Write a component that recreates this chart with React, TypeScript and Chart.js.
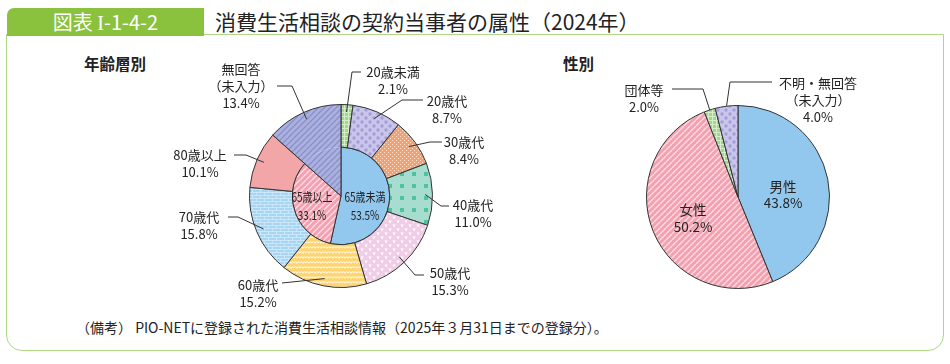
import React, { useEffect, useRef } from 'react';
import { Chart, registerables } from 'chart.js';
Chart.register(...registerables);

// ---------------- data ----------------
const ageLabels = ['20歳未満', '20歳代', '30歳代', '40歳代', '50歳代', '60歳代', '70歳代', '80歳以上', '無回答（未入力）'];
const ageValues = [2.1, 8.7, 8.4, 11.0, 15.3, 15.2, 15.8, 10.1, 13.4];
const groupLabels = ['65歳未満', '65歳以上', '無回答（未入力）'];
const groupValues = [53.5, 33.1, 13.4];
const sexLabels = ['男性', '女性', '団体等', '不明・無回答（未入力）'];
const sexValues = [43.8, 50.2, 2.0, 4.0];

const FONT = '"Noto Sans CJK JP", "Noto Sans", sans-serif';
const pct = (v: number) => `${v.toFixed(1)}%`;

type Item = {
  ds: number;
  index: number;
  lines: string[];
  x: number;
  y: number;
  step?: number;
  size?: number;
  sx?: number;
  leader?: number[][];
  reach?: number;
};

function makePattern(w: number, h: number, bg: string, draw?: (c: CanvasRenderingContext2D) => void) {
  const cv = document.createElement('canvas');
  cv.width = w;
  cv.height = h;
  const c = cv.getContext('2d')!;
  c.fillStyle = bg;
  c.fillRect(0, 0, w, h);
  if (draw) draw(c);
  return c.createPattern(cv, 'repeat')!;
}

function stripes(c: CanvasRenderingContext2D, s: number, color: string, lw: number) {
  c.strokeStyle = color;
  c.lineWidth = lw;
  c.beginPath();
  for (const k of [-s, 0, s]) {
    c.moveTo(k, s);
    c.lineTo(k + s, 0);
  }
  c.stroke();
}

function buildPatterns() {
  const greenCheck = makePattern(4, 4, '#a3d88a', (c) => {
    c.fillStyle = 'rgba(255,255,255,0.55)';
    c.fillRect(0, 0, 4, 1);
    c.fillRect(0, 1, 1, 3);
  });
  const lavDots = makePattern(8, 8, '#cac6ea', (c) => {
    c.fillStyle = '#a39edc';
    for (const [x, y] of [[2, 2], [6, 6]]) {
      c.beginPath();
      c.arc(x, y, 1.7, 0, Math.PI * 2);
      c.fill();
    }
  });
  const orange = makePattern(4, 4, '#f7a06d', (c) => {
    c.fillStyle = 'rgba(255,240,230,0.85)';
    c.fillRect(0, 0, 1, 1);
    c.fillRect(2, 2, 1, 1);
  });
  const mint = makePattern(12, 12, '#a7ddcf', (c) => {
    c.fillStyle = '#50c29c';
    c.fillRect(4, 4, 4, 4);
  });
  const pinkTri = makePattern(8, 8, '#f0cde6', (c) => {
    c.fillStyle = '#ffffff';
    for (const [x, y] of [[0.5, 0.5], [4.5, 4.5]]) {
      c.beginPath();
      c.moveTo(x, y);
      c.lineTo(x + 3.2, y);
      c.lineTo(x + 1.6, y + 3);
      c.closePath();
      c.fill();
    }
  });
  const yellowWave = makePattern(6, 5, '#fdd471', (c) => {
    c.strokeStyle = 'rgba(255,248,225,0.95)';
    c.lineWidth = 1.2;
    c.beginPath();
    c.moveTo(0, 3);
    c.quadraticCurveTo(1.5, 0.5, 3, 3);
    c.quadraticCurveTo(4.5, 0.5, 6, 3);
    c.stroke();
  });
  const blueBrick = makePattern(8, 6, '#a7d6f5', (c) => {
    c.fillStyle = 'rgba(255,255,255,0.42)';
    c.fillRect(0, 0, 8, 1);
    c.fillRect(0, 3, 8, 1);
    c.fillRect(0, 1, 1, 2);
    c.fillRect(4, 4, 1, 2);
  });
  const pink80 = '#f2a6a8';
  const lavStripe = makePattern(6, 6, '#abb0de', (c) => stripes(c, 6, '#8a90cc', 1.4));
  const pinkStripe = makePattern(6, 6, '#f3a1b0', (c) => stripes(c, 6, 'rgba(255,255,255,0.65)', 1.4));
  const blue = '#93c8ee';
  return { greenCheck, lavDots, orange, mint, pinkTri, yellowWave, blueBrick, pink80, lavStripe, pinkStripe, blue };
}

function annotPlugin(items: Item[], outline?: { ds: number; index: number }) {
  return {
    id: 'annot',
    afterDatasetsDraw(chart: any) {
      const ctx: CanvasRenderingContext2D = chart.ctx;
      ctx.save();
      ctx.strokeStyle = '#333';
      ctx.lineWidth = 1;
      if (outline) {
        const arc = chart.getDatasetMeta(outline.ds).data[outline.index];
        const p = arc.getProps(['x', 'y', 'startAngle', 'endAngle', 'outerRadius'], true);
        ctx.beginPath();
        ctx.moveTo(p.x, p.y);
        ctx.lineTo(p.x + Math.cos(p.startAngle) * p.outerRadius, p.y + Math.sin(p.startAngle) * p.outerRadius);
        ctx.arc(p.x, p.y, p.outerRadius, p.startAngle, p.endAngle);
        ctx.closePath();
        ctx.stroke();
      }
      for (const it of items) {
        if (it.leader) {
          const arc = chart.getDatasetMeta(it.ds).data[it.index];
          const p = arc.getProps(['x', 'y', 'startAngle', 'endAngle', 'outerRadius'], true);
          const mid = (p.startAngle + p.endAngle) / 2;
          const r = p.outerRadius * (it.reach ?? 0.92);
          ctx.beginPath();
          it.leader.forEach(([x, y], i) => (i === 0 ? ctx.moveTo(x, y) : ctx.lineTo(x, y)));
          ctx.lineTo(p.x + Math.cos(mid) * r, p.y + Math.sin(mid) * r);
          ctx.stroke();
        }
        ctx.fillStyle = '#222';
        ctx.textAlign = 'center';
        ctx.textBaseline = 'middle';
        ctx.font = `${it.size ?? 13}px ${FONT}`;
        const sx = it.sx ?? 1;
        it.lines.forEach((t, i) => {
          ctx.save();
          ctx.translate(it.x, it.y + i * (it.step ?? 17));
          ctx.scale(sx, 1);
          ctx.fillText(t, 0, 0);
          ctx.restore();
        });
      }
      ctx.restore();
    },
  };
}

export default function App() {
  const leftRef = useRef<HTMLCanvasElement>(null);
  const rightRef = useRef<HTMLCanvasElement>(null);

  useEffect(() => {
    const P = buildPatterns();
    const ageColors = [P.greenCheck, P.lavDots, P.orange, P.mint, P.pinkTri, P.yellowWave, P.blueBrick, P.pink80, P.lavStripe];
    const groupColors = [P.blue, P.pinkStripe, P.lavStripe];
    const sexColors = [P.blue, P.pinkStripe, P.greenCheck, P.lavDots];

    const ageItems: Item[] = [
      { ds: 0, index: 0, lines: ['20歳未満', pct(ageValues[0])], x: 393, y: 72, leader: [[361, 72], [352, 72]] },
      { ds: 0, index: 1, lines: ['20歳代', pct(ageValues[1])], x: 447, y: 101, leader: [[423, 100], [402, 100]] },
      { ds: 0, index: 2, lines: ['30歳代', pct(ageValues[2])], x: 464, y: 142, leader: [[442, 142], [430, 142]] },
      { ds: 0, index: 3, lines: ['40歳代', pct(ageValues[3])], x: 473, y: 205, leader: [[449, 206], [441, 206]] },
      { ds: 0, index: 4, lines: ['50歳代', pct(ageValues[4])], x: 450, y: 273, leader: [[424, 275], [415, 275]] },
      { ds: 0, index: 5, lines: ['60歳代', pct(ageValues[5])], x: 258, y: 285, leader: [[282, 283]] },
      { ds: 0, index: 6, lines: ['70歳代', pct(ageValues[6])], x: 199, y: 217, leader: [[228, 217], [238, 217]] },
      { ds: 0, index: 7, lines: ['80歳以上', pct(ageValues[7])], x: 200, y: 155, leader: [[234, 155], [246, 155]] },
      { ds: 0, index: 8, lines: ['無回答', '（未入力）', pct(ageValues[8])], x: 241, y: 69, leader: [[277, 86], [292, 86]] },
      { ds: 1, index: 0, lines: [groupLabels[0], pct(groupValues[0])], x: 365, y: 197, size: 12.5, step: 18, sx: 0.8 },
      { ds: 1, index: 1, lines: [groupLabels[1], pct(groupValues[1])], x: 312, y: 197, size: 12.5, step: 18, sx: 0.8 },
    ];

    const sexItems: Item[] = [
      { ds: 0, index: 0, lines: [sexLabels[0], pct(sexValues[0])], x: 783, y: 187, step: 16, size: 13.5 },
      { ds: 0, index: 1, lines: [sexLabels[1], pct(sexValues[1])], x: 693, y: 210, step: 17, size: 13.5 },
      { ds: 0, index: 2, lines: ['団体等', pct(sexValues[2])], x: 644, y: 90, leader: [[672, 89], [703, 89]], reach: 1.0 },
      { ds: 0, index: 3, lines: ['不明・無回答', '（未入力）', pct(sexValues[3])], x: 818, y: 83, leader: [[772, 82], [730, 82]], reach: 1.0 },
    ];

    const left = new Chart(leftRef.current!, {
      type: 'doughnut',
      data: {
        labels: ageLabels,
        datasets: [
          {
            data: ageValues,
            backgroundColor: ageColors as any,
            borderColor: '#333',
            borderWidth: ageValues.map((_, i) => (i === 8 ? 0 : 1)),
            weight: 43,
          } as any,
          {
            data: groupValues,
            backgroundColor: groupColors as any,
            borderColor: '#333',
            borderWidth: groupValues.map((_, i) => (i === 2 ? 0 : 1)),
            weight: 49,
          } as any,
        ],
      },
      options: {
        responsive: false,
        animation: false,
        devicePixelRatio: 1,
        cutout: 0,
        layout: { padding: { left: 249, right: 517, top: 104, bottom: 76 } },
        plugins: { legend: { display: false }, tooltip: { enabled: false } },
      },
      plugins: [annotPlugin(ageItems, { ds: 0, index: 8 })],
    });

    const right = new Chart(rightRef.current!, {
      type: 'pie',
      data: {
        labels: sexLabels,
        datasets: [
          {
            data: sexValues,
            backgroundColor: sexColors as any,
            borderColor: '#333',
            borderWidth: 1,
          },
        ],
      },
      options: {
        responsive: false,
        animation: false,
        devicePixelRatio: 1,
        layout: { padding: { left: 646, right: 120, top: 105, bottom: 75 } },
        plugins: { legend: { display: false }, tooltip: { enabled: false } },
      },
      plugins: [annotPlugin(sexItems)],
    });

    return () => {
      left.destroy();
      right.destroy();
    };
  }, []);

  const abs: React.CSSProperties = { position: 'absolute' };
  return (
    <div style={{ ...abs, left: 0, top: 0, width: 950, height: 364, background: '#fff', fontFamily: FONT, color: '#222' }}>
      <div
        style={{
          ...abs,
          left: 6,
          top: 34,
          width: 936,
          height: 315,
          border: '1.5px solid #b0d884',
          borderRadius: '0 0 16px 16px',
        }}
      />
      <div
        style={{
          ...abs,
          left: 7,
          top: 8,
          width: 197,
          height: 28,
          background: '#8ac23d',
          borderRadius: '7px 0 0 0',
          color: '#fff',
          fontSize: 20,
          lineHeight: '28px',
          textAlign: 'center',
          whiteSpace: 'nowrap',
        }}
      >
        図表 <span style={{ fontFamily: '"Liberation Serif", "DejaVu Serif", serif' }}>I</span>-1-4-2
      </div>
      <div style={{ ...abs, left: 215, top: 7, height: 28, lineHeight: '28px', fontSize: 21, whiteSpace: 'nowrap' }}>
        消費生活相談の契約当事者の属性（2024年）
      </div>
      <div style={{ ...abs, left: 84, top: 52, fontSize: 15.5, fontWeight: 700, lineHeight: '22px' }}>年齢層別</div>
      <div style={{ ...abs, left: 563, top: 52, fontSize: 15.5, fontWeight: 700, lineHeight: '22px' }}>性別</div>
      <div style={{ ...abs, left: 76, top: 317, fontSize: 14, lineHeight: '20px', whiteSpace: 'nowrap' }}>
        （備考） PIO-NETに登録された消費生活相談情報（2025年３月31日までの登録分）。
      </div>
      <canvas ref={leftRef} width={950} height={364} style={{ ...abs, left: 0, top: 0 }} />
      <canvas ref={rightRef} width={950} height={364} style={{ ...abs, left: 0, top: 0 }} />
    </div>
  );
}
